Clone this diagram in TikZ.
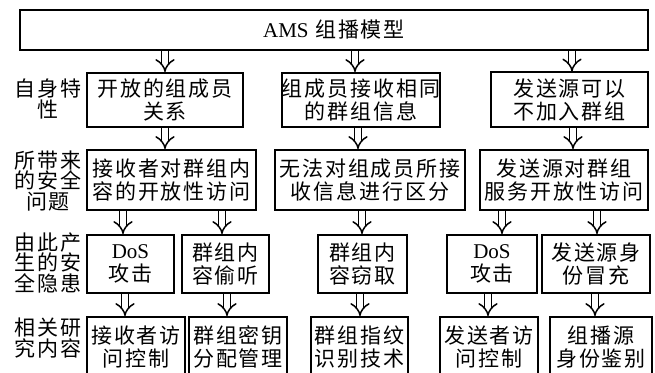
\documentclass[tikz,border=0pt]{standalone}
\usepackage{fontspec}
\setmainfont{Noto Sans CJK SC}[LetterSpace=9]
\newfontfamily\lat{Liberation Serif}
\usetikzlibrary{arrows.meta}

\tikzset{
  box/.style 2 args={draw, line width=1pt, inner sep=0pt, align=center,
    minimum width=#1*0.5pt, minimum height=#2*0.5pt,
    font=\fontsize{10.5}{11.5}\selectfont},
  lbl/.style={align=center, inner sep=0pt, font=\fontsize{10.5}{10.4}\selectfont},
  dbl/.style={double, double distance=2.6pt, line width=0.75pt, -{Implies[scale=1.3]}},
}

\begin{document}
\begin{tikzpicture}[x=0.5pt, y=-0.5pt]
  \useasboundingbox (0,0) rectangle (655,373);
  %%% Modello
  \node[box={628}{40}] (ams) at (334,30) {{\lat AMS} 组播模型};
  %%% Caratteristiche
  \node[box={156}{54}] (open) at (165,100) {开放的组成员\\关系};
  \node[box={158}{54}] (same) at (361,100) {组成员接收相同\\的群组信息};
  \node[box={157}{55}] (src) at (569.5,100) {发送源可以\\不加入群组};
  %%% Problemi
  \node[box={169}{60}] (recvacc) at (171.5,180) {接收者对群组内\\容的开放性访问};
  \node[box={190}{60}] (nodist) at (370,180) {无法对组成员所接\\收信息进行区分};
  \node[box={168}{60}] (srcacc) at (564,180) {发送源对群组\\服务开放性访问};
  %%% Pericoli
  \node[box={87}{58}] (dosr) at (130.5,264) {{\lat DoS}\\攻击};
  \node[box={87}{58}] (eaves) at (225.5,264) {群组内\\容偷听};
  \node[box={89}{58}] (steal) at (362.5,264) {群组内\\容窃取};
  \node[box={90}{58}] (doss) at (492,264) {{\lat DoS}\\攻击};
  \node[box={108}{58}] (spoof) at (596,264) {发送源身\\份冒充};
  %%% Ricerca
  \node[box={98}{60}] (rctl) at (136,347) {接收者访\\问控制};
  \node[box={98}{60}] (keym) at (238,347) {群组密钥\\分配管理};
  \node[box={97}{60}] (finger) at (359.5,347) {群组指纹\\识别技术};
  \node[box={98}{60}] (sctl) at (489,347) {发送者访\\问控制};
  \node[box={102}{60}] (auth) at (601,347) {组播源\\身份鉴别};
  %%% Etichette
  \node[lbl] (l1) at (48,99) {自身特\\性};
  \node[lbl] (l2) at (48,181) {所带来\\的安全\\问题};
  \node[lbl] (l3) at (48,263) {由此产\\生的安\\全隐患};
  \node[lbl] (l4) at (48,338) {相关研\\究内容};
  %%% Frecce
  \draw[dbl] (ams.south -| 165,0) -- (open.north -| 165,0);
  \draw[dbl] (ams.south -| 355,0) -- (same.north -| 355,0);
  \draw[dbl] (ams.south -| 572,0) -- (src.north -| 572,0);
  \draw[dbl] (open.south -| 165,0) -- (recvacc.north -| 165,0);
  \draw[dbl] (same.south -| 358,0) -- (nodist.north -| 358,0);
  \draw[dbl] (src.south -| 573,0) -- (srcacc.north -| 573,0);
  \draw[dbl] (recvacc.south -| 123,0) -- (dosr.north -| 123,0);
  \draw[dbl] (recvacc.south -| 222,0) -- (eaves.north -| 222,0);
  \draw[dbl] (nodist.south -| 362,0) -- (steal.north -| 362,0);
  \draw[dbl] (srcacc.south -| 502,0) -- (doss.north -| 502,0);
  \draw[dbl] (srcacc.south -| 597,0) -- (spoof.north -| 597,0);
  \draw[dbl] (dosr.south -| 125,0) -- (rctl.north -| 125,0);
  \draw[dbl] (eaves.south -| 227,0) -- (keym.north -| 227,0);
  \draw[dbl] (steal.south -| 360,0) -- (finger.north -| 360,0);
  \draw[dbl] (doss.south -| 488,0) -- (sctl.north -| 488,0);
  \draw[dbl] (spoof.south -| 595,0) -- (auth.north -| 595,0);
\end{tikzpicture}
\end{document}
